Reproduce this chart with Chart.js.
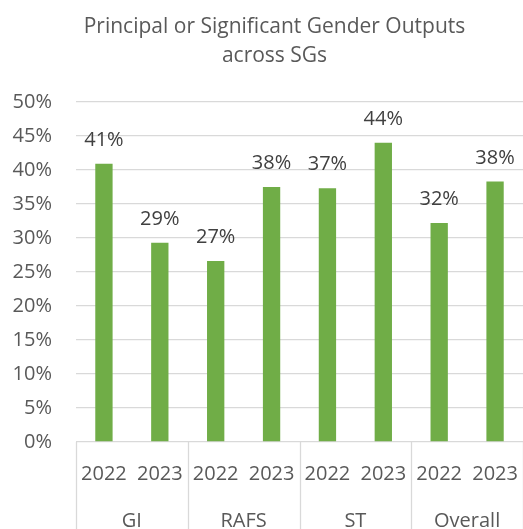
<!DOCTYPE html>
<html>
<head>
<meta charset="utf-8">
<script src="https://cdn.jsdelivr.net/npm/chart.js@4.4.1/dist/chart.umd.min.js"></script>
<style>
  html, body { margin: 0; padding: 0; background: #fff; }
  #wrap { width: 523px; height: 529px; }
</style>
</head>
<body>
<div id="wrap"><canvas id="myChart" width="523" height="529"></canvas></div>
<script>
const titleLines = ["Principal or Significant Gender Outputs", "across SGs"];
const groups = ["GI", "RAFS", "ST", "Overall"];
const years = ["2022", "2023"];
// percent values (GI 22, GI 23, RAFS 22, ...)
const values = [40.9, 29.3, 26.6, 37.5, 37.3, 44.0, 32.2, 38.3];
const yTicks = [0, 5, 10, 15, 20, 25, 30, 35, 40, 45, 50];

const FONT = "'Open Sans', 'Noto Sans', sans-serif";
const labels = [];
groups.forEach(() => years.forEach((y) => labels.push(y)));

// value labels above bars
const barLabels = {
  id: "barLabels",
  afterDatasetsDraw(chart) {
    const ctx = chart.ctx;
    const meta = chart.getDatasetMeta(0);
    ctx.save();
    ctx.font = "20px " + FONT;
    ctx.fillStyle = "#404040";
    ctx.textAlign = "center";
    ctx.textBaseline = "alphabetic";
    meta.data.forEach((bar, i) => {
      ctx.fillText(Math.round(values[i]) + "%", bar.x, bar.y - 18);
    });
    ctx.restore();
  },
};

// second row of x labels (groups) and the separators between them
const groupAxis = {
  id: "groupAxis",
  afterLayout(chart) {
    // the title sits a bit right of the canvas centre
    if (chart.titleBlock) chart.titleBlock.left = 25;
  },
  afterDraw(chart) {
    const ctx = chart.ctx;
    const x = chart.scales.x;
    const area = chart.chartArea;
    const step = x.getPixelForValue(1) - x.getPixelForValue(0);
    ctx.save();
    ctx.strokeStyle = "#d9d9d9";
    ctx.lineWidth = 1.3;
    for (let g = 0; g <= groups.length; g++) {
      const px = Math.round(x.getPixelForValue(g * years.length) - step / 2) + 0.5;
      ctx.beginPath();
      ctx.moveTo(px, area.bottom);
      ctx.lineTo(px, chart.height);
      ctx.stroke();
    }
    ctx.font = "20px " + FONT;
    ctx.fillStyle = "#595959";
    ctx.textAlign = "center";
    ctx.textBaseline = "alphabetic";
    groups.forEach((name, g) => {
      const a = x.getPixelForValue(g * years.length);
      const b = x.getPixelForValue(g * years.length + years.length - 1);
      ctx.fillText(name, (a + b) / 2, 527);
    });
    ctx.restore();
  },
};

new Chart(document.getElementById("myChart"), {
  type: "bar",
  data: {
    labels: labels,
    datasets: [
      {
        data: values,
        backgroundColor: "#70AD47",
        categoryPercentage: 1,
        barPercentage: 0.31,
      },
    ],
  },
  options: {
    responsive: false,
    animation: false,
    devicePixelRatio: 1,
    layout: { padding: { left: 0, right: -1, top: 0, bottom: 0 } },
    plugins: {
      legend: { display: false },
      tooltip: { enabled: false },
      title: {
        display: true,
        text: titleLines,
        color: "#595959",
        font: { family: FONT, size: 21, weight: "normal", lineHeight: 1.38 },
        padding: { top: 13, bottom: 31 },
      },
    },
    scales: {
      x: {
        grid: { display: false },
        border: { display: false },
        ticks: {
          color: "#595959",
          font: { family: FONT, size: 20 },
          padding: 12,
          maxRotation: 0,
          autoSkip: false,
        },
        afterFit: (s) => {
          s.height = 87;
          s.paddingLeft = 0;
          s.paddingRight = 0;
        },
      },
      y: {
        min: 0,
        max: 50,
        afterBuildTicks: (s) => { s.ticks = yTicks.map((v) => ({ value: v })); },
        grid: { color: "#d9d9d9", lineWidth: 1.3, drawTicks: false },
        border: { display: false },
        ticks: {
          color: "#595959",
          font: { family: FONT, size: 20 },
          padding: 24,
          callback: (v) => v + "%",
        },
        afterFit: (s) => { s.width = 76; },
      },
    },
  },
  plugins: [barLabels, groupAxis],
});
</script>
</body>
</html>
